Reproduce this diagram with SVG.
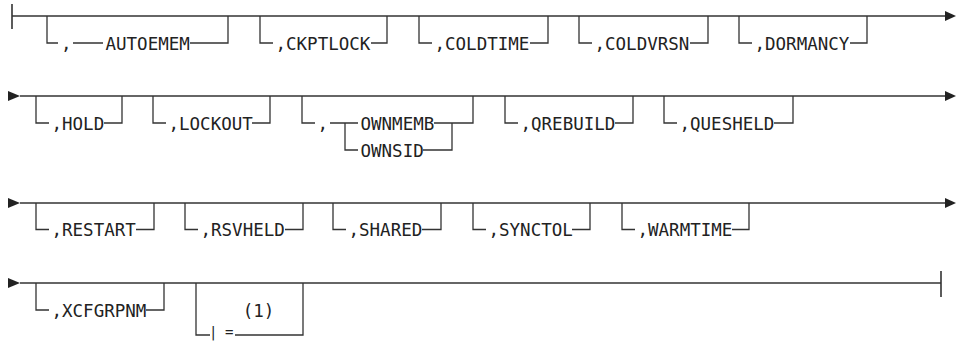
<svg xmlns="http://www.w3.org/2000/svg" width="965" height="341" viewBox="0 0 965 341">
<style>
.ln{stroke:#333;stroke-width:1.3;fill:none}
.bar{stroke:#333;stroke-width:1.6;fill:none}
.ah{fill:#222;stroke:none}
.t{font-family:"DejaVu Sans Mono","Liberation Mono",monospace;font-size:17.5px;fill:#222}
.s{font-family:"DejaVu Sans Mono","Liberation Mono",monospace;font-size:14px;fill:#222}
</style>
<rect width="965" height="341" fill="#fff"/>
<g id="connectors">
<!-- row 1 -->
<path class="bar" d="M12 4V29"/>
<path class="ln" d="M12 16H945"/>
<polygon class="ah" points="945,11 956,16 945,21"/>
<path class="ln" d="M47 16V43H58M73 43H103M190 43H228V16"/>
<path class="ln" d="M260 16V43H273M371 43H387V16"/>
<path class="ln" d="M419 16V43H432M530 43H548V16"/>
<path class="ln" d="M579 16V43H592M690 43H708V16"/>
<path class="ln" d="M739 16V43H752M850 43H867V16"/>
<!-- row 2 -->
<polygon class="ah" points="8,91 20,96 8,101"/>
<path class="ln" d="M20 96H945"/>
<polygon class="ah" points="945,91 956,96 945,101"/>
<path class="ln" d="M36 96V123H49M104 123H122V96"/>
<path class="ln" d="M153 96V123H166M252 123H270V96"/>
<path class="ln" d="M302 96V123H315M330 123H358M434 123H473V96M345 123V150H358M423 150H452V123"/>
<path class="ln" d="M505 96V123H518M615 123H633V96"/>
<path class="ln" d="M664 96V123H677M774 123H793V96"/>
<!-- row 3 -->
<polygon class="ah" points="8,198 20,203 8,208"/>
<path class="ln" d="M20 203H945"/>
<polygon class="ah" points="945,198 956,203 945,208"/>
<path class="ln" d="M36 203V229.5H49M136 229.5H154V203"/>
<path class="ln" d="M185 203V229.5H198M285 229.5H303V203"/>
<path class="ln" d="M333 203V229.5H346M422 229.5H441V203"/>
<path class="ln" d="M473 203V229.5H486M572 229.5H590V203"/>
<path class="ln" d="M622 203V229.5H635M732 229.5H749V203"/>
<!-- row 4 -->
<polygon class="ah" points="8,278 20,283 8,288"/>
<path class="ln" d="M20 283H941"/>
<path class="bar" d="M941 271V297"/>
<path class="ln" d="M36 283V310H49M146 310H164V283"/>
<path class="ln" d="M196 283V335H210M235 335H303V283"/>
</g>
<g id="n-autoemem"><text class="t" x="61" y="49.5">,</text><text class="t" x="105.5" y="49.5">AUTOEMEM</text></g>
<g id="n-ckptlock"><text class="t" x="275.5" y="49.5">,CKPTLOCK</text></g>
<g id="n-coldtime"><text class="t" x="434.5" y="49.5">,COLDTIME</text></g>
<g id="n-coldvrsn"><text class="t" x="594.5" y="49.5">,COLDVRSN</text></g>
<g id="n-dormancy"><text class="t" x="754.5" y="49.5">,DORMANCY</text></g>
<g id="n-hold"><text class="t" x="51.5" y="129.5">,HOLD</text></g>
<g id="n-lockout"><text class="t" x="168.5" y="129.5">,LOCKOUT</text></g>
<g id="n-own"><text class="t" x="317.5" y="129.5">,</text><text class="t" x="360.5" y="129.5">OWNMEMB</text><text class="t" x="360.5" y="156.5">OWNSID</text></g>
<g id="n-qrebuild"><text class="t" x="520.5" y="129.5">,QREBUILD</text></g>
<g id="n-quesheld"><text class="t" x="679.5" y="129.5">,QUESHELD</text></g>
<g id="n-restart"><text class="t" x="51.5" y="236">,RESTART</text></g>
<g id="n-rsvheld"><text class="t" x="200.5" y="236">,RSVHELD</text></g>
<g id="n-shared"><text class="t" x="348.5" y="236">,SHARED</text></g>
<g id="n-synctol"><text class="t" x="488.5" y="236">,SYNCTOL</text></g>
<g id="n-warmtime"><text class="t" x="637.5" y="236">,WARMTIME</text></g>
<g id="n-xcfgrpnm"><text class="t" x="51.5" y="316.5">,XCFGRPNM</text></g>
<g id="n-note"><text class="t" x="258.5" y="316.5" text-anchor="middle">(1)</text><text class="s" x="209" y="337">|<tspan x="225">=</tspan></text></g>
</svg>
